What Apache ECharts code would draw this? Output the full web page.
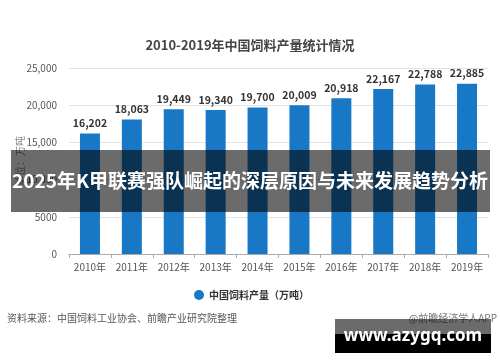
<!DOCTYPE html>
<html>
<head>
<meta charset="utf-8">
<script src="https://cdn.jsdelivr.net/npm/echarts@6/dist/echarts.min.js"></script>
<style>html,body{margin:0;padding:0;background:#fff}#c{width:500px;height:362px}</style>
</head>
<body>
<div id="c"></div>
<script>
const categories = ['2010年','2011年','2012年','2013年','2014年','2015年','2016年','2017年','2018年','2019年'];
const production = [16202, 18063, 19449, 19340, 19700, 20009, 20918, 22167, 22788, 22885];
const yTickLabels = {0:'0', 5000:'5000', 10000:'10,000', 15000:'15,000', 20000:'20,000', 25000:'25,000'};
const titleText = '2010-2019年中国饲料产量统计情况';
const seriesName = '中国饲料产量（万吨）';
const yAxisName = '单位：万吨';
const sourceText = '资料来源：中国饲料工业协会、前瞻产业研究院整理';
const creditText = '@前瞻经济学人APP';
const bannerText = '2025年K甲联赛强队崛起的深层原因与未来发展趋势分析';
const siteText = 'www.azygq.com';

const fmt = v => String(v).replace(/\B(?=(\d{3})+(?!\d))/g, ',');
const FONT = '"Noto Sans CJK SC","Noto Sans",sans-serif';

const chart = echarts.init(document.getElementById('c'), null, {renderer:'canvas'});
chart.setOption({
  backgroundColor:'#fff',
  animation:false,
  textStyle:{fontFamily:FONT},
  title:{text:titleText,left:'center',top:34,textStyle:{fontSize:13,fontWeight:'bold',color:'#444',fontFamily:FONT}},
  grid:{left:69,right:12,top:68,bottom:108},
  legend:{data:[seriesName],left:189,top:285,icon:'circle',itemWidth:10,itemHeight:10,itemGap:6,
    textStyle:{fontSize:10,fontWeight:'bold',color:'#333',fontFamily:FONT}},
  xAxis:{type:'category',data:categories,
    axisLine:{lineStyle:{color:'#aaa'}},
    axisTick:{show:true,length:4,lineStyle:{color:'#aaa'}},
    axisLabel:{interval:0,fontSize:10,color:'#555',margin:8,fontFamily:FONT}},
  yAxis:{type:'value',min:0,max:25000,interval:5000,
    axisLine:{show:false},axisTick:{show:false},
    splitLine:{lineStyle:{color:'#e3e3e3'}},
    axisLabel:{fontSize:10,color:'#555',margin:12,formatter:v=>yTickLabels[v]}},
  series:[{name:seriesName,type:'bar',data:production,barWidth:20,
    itemStyle:{color:'#1878c6'},
    label:{show:true,position:'top',distance:5,fontSize:10.5,fontWeight:'bold',color:'#333',formatter:p=>fmt(p.value)}}],
  graphic:[
    {type:'text',x:20,y:161,rotation:Math.PI/2,style:{text:yAxisName,fontSize:10,fill:'#888',align:'center',verticalAlign:'middle',fontFamily:FONT}},
    {type:'text',left:7,top:313,style:{text:sourceText,fontSize:10,fill:'#555',fontFamily:FONT}},
    {type:'text',right:3,top:313,style:{text:creditText,fontSize:10,fill:'#777',fontFamily:FONT}},
    {type:'rect',shape:{x:11,y:150,width:479,height:62},style:{fill:'rgba(0,0,0,0.58)'},z:100},
    {type:'text',x:250,y:181,z:101,style:{text:bannerText,fontSize:19,fontWeight:'bold',fill:'#fff',align:'center',verticalAlign:'middle',fontFamily:FONT}},
    {type:'rect',shape:{x:335,y:319,width:156,height:15},style:{fill:'rgba(0,0,0,0.58)'},z:100},
    {type:'rect',shape:{x:335,y:334,width:156,height:19},style:{fill:'#000'},z:100},
    {type:'text',x:413,y:336,z:101,style:{text:siteText,fontSize:17,fontWeight:'bold',fill:'#fff',align:'center',verticalAlign:'middle',fontFamily:'"Noto Sans",sans-serif'}}
  ]
});
</script>
</body>
</html>
